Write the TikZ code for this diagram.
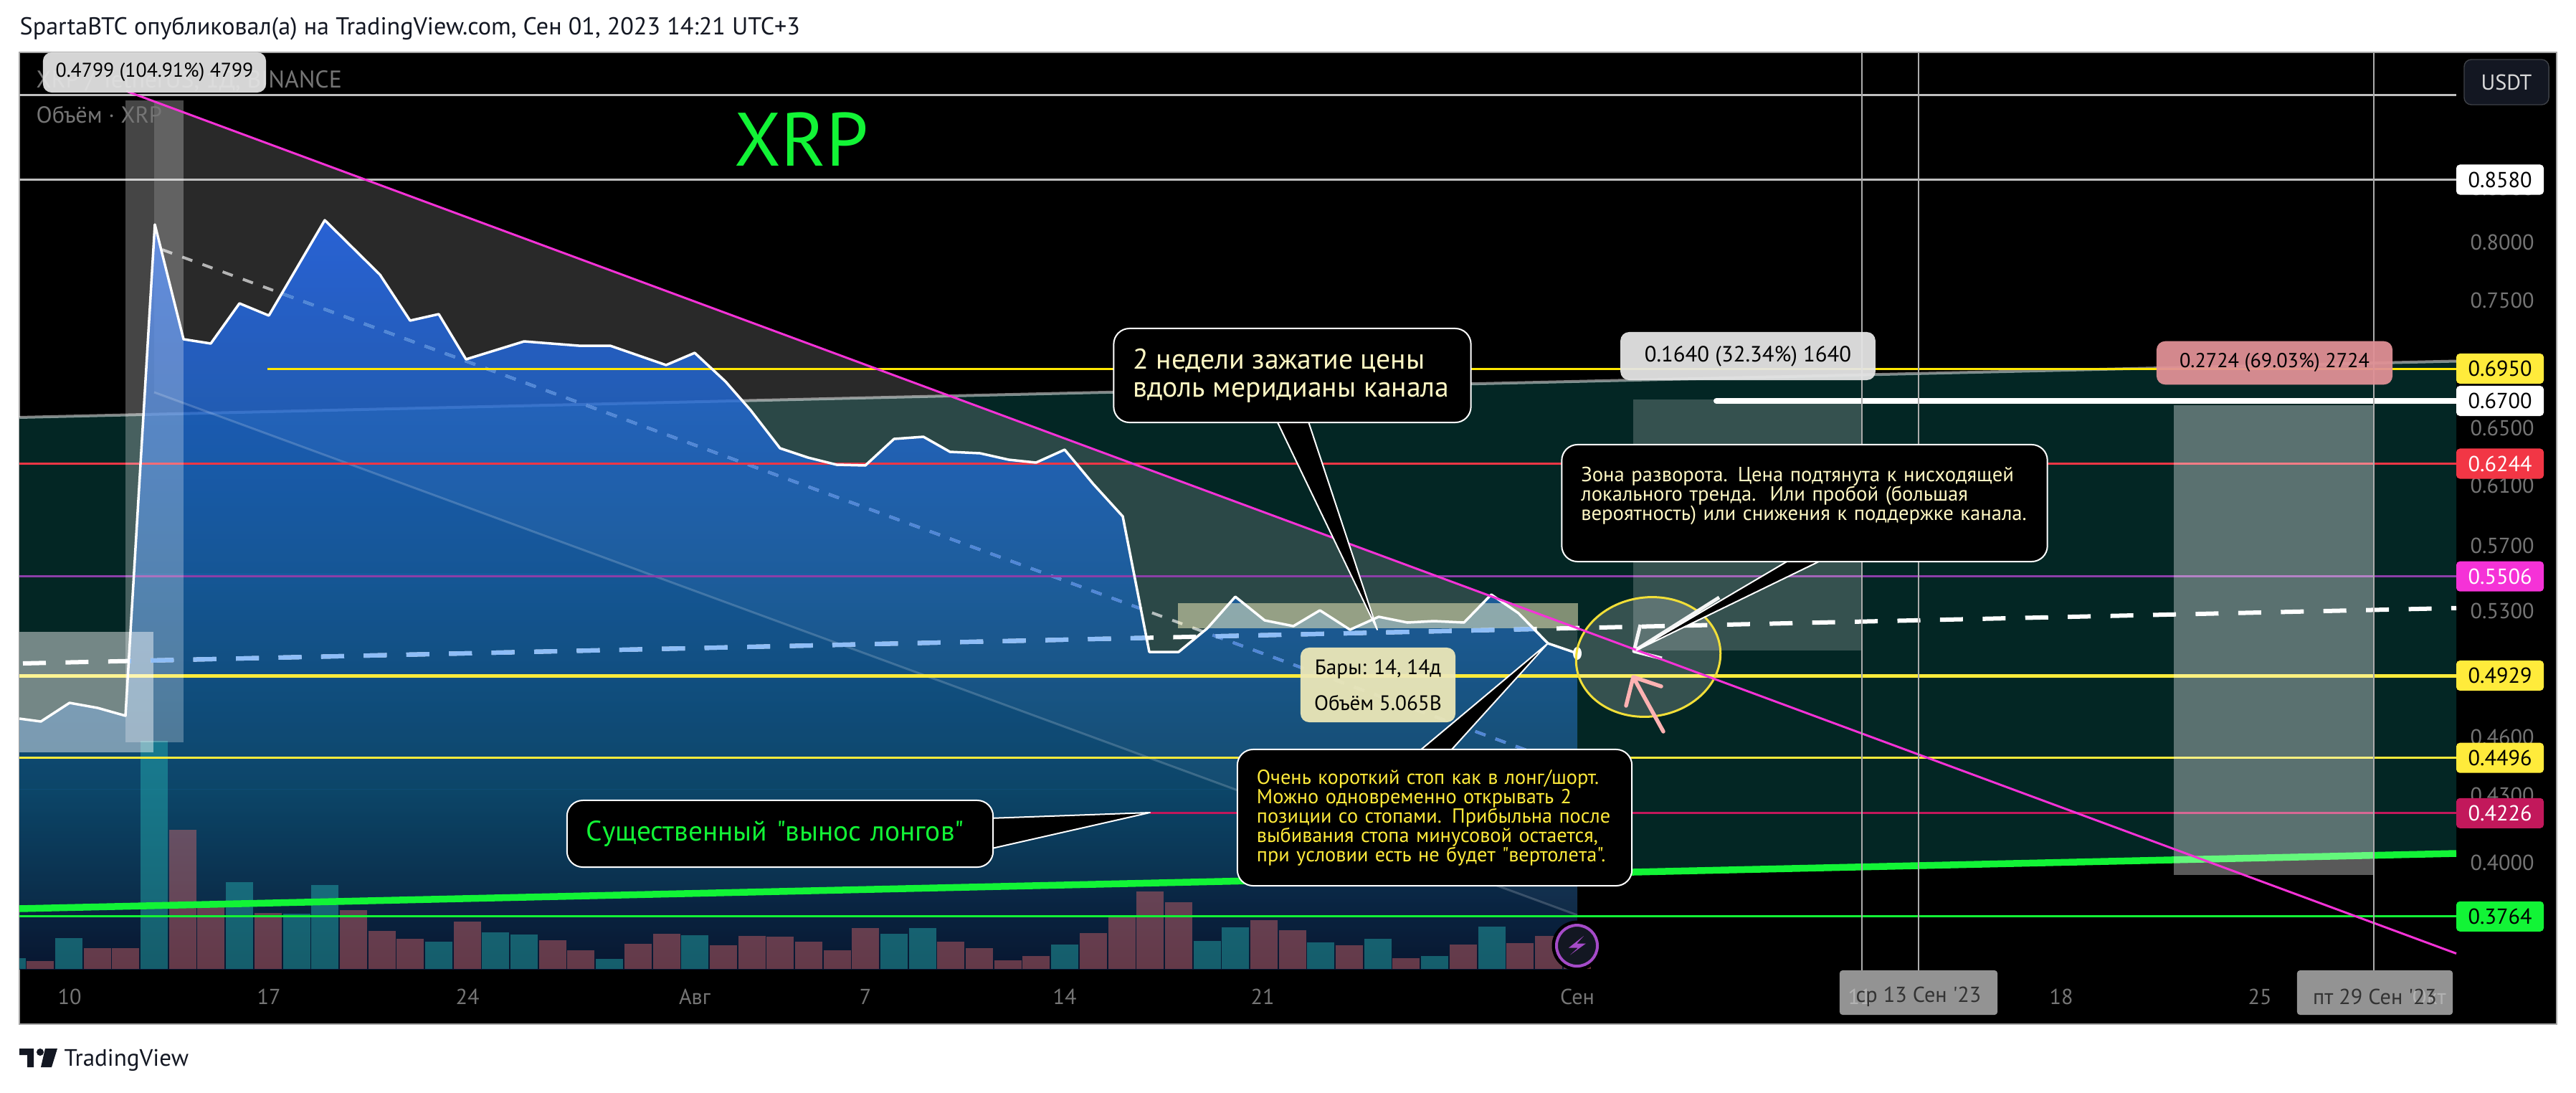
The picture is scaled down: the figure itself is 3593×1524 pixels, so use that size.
\documentclass[tikz,border=0pt]{standalone}
\usepackage{fontspec}
\setmainfont{PT Sans}[Ligatures=TeXOff]
\usetikzlibrary{shapes.geometric}
\definecolor{channelTeal}{RGB}{3,38,36}
\definecolor{areaTop}{RGB}{41,112,255}
\definecolor{areaMid}{RGB}{26,99,178}
\definecolor{areaLow}{RGB}{15,78,122}
\definecolor{areaBot}{RGB}{11,28,60}
\definecolor{tvGreen}{RGB}{18,244,54}
\definecolor{tvYellow}{RGB}{255,235,59}
\definecolor{tvRed}{RGB}{242,54,69}
\definecolor{tvPurple}{RGB}{140,63,168}
\definecolor{tvMagenta}{RGB}{245,50,215}
\definecolor{tvCrimson}{RGB}{194,24,91}
\definecolor{tvInk}{RGB}{19,23,34}
\definecolor{tvGrey}{RGB}{117,117,117}
\definecolor{tvBolt}{RGB}{165,75,200}
\definecolor{volUpCol}{RGB}{38,180,180}
\definecolor{volDownCol}{RGB}{240,110,110}
\definecolor{dashBlue}{RGB}{142,189,247}
\definecolor{midBlue}{RGB}{80,135,215}
\definecolor{noteCream}{RGB}{255,248,196}
\definecolor{rangePink}{RGB}{225,145,150}
\definecolor{infoCream}{RGB}{237,232,184}
\tikzset{
  axisTick/.style={text=tvGrey,inner sep=0pt,font=\fontsize{8.6}{9}\selectfont},
  priceTag/.style={rounded corners=.05cm,minimum width=1.22cm,minimum height=.42cm,inner sep=0pt,font=\fontsize{8.6}{9}\selectfont},
  dateTag/.style={fill=gray!85,rounded corners=.04cm,inner sep=0pt,minimum height=.62cm,text=black!80,font=\fontsize{8.6}{9}\selectfont},
  rangeTag/.style={rounded corners=.12cm,fill opacity=.94,text opacity=1,inner sep=0pt,text=black},
  noteBox/.style={draw=white,fill=black,line width=.02cm,rounded corners=.22cm,align=left,inner xsep=.27cm,inner ysep=0pt},
  noteTail/.style={draw=white,fill=black,line width=.02cm,line join=round},
  volUp/.style={fill=volUpCol,fill opacity=.45},
  volDown/.style={fill=volDownCol,fill opacity=.4},
  levelLine/.style={line width=.03cm}
}
\def\pricePath{(27,1002) -- (57,1006) -- (97,980) -- (136,987) -- (175,998) -- (216,313) -- (256,473) -- (294,479) -- (334,423) -- (375,440) -- (453,307) -- (530,383) -- (572,447) -- (612,438) -- (650,501) -- (731,476) -- (807,482) -- (851,482) -- (929,509) -- (969,492) -- (1012,532) -- (1047,572) -- (1088,625) -- (1127,638) -- (1167,648) -- (1207,649) -- (1247,612) -- (1288,609) -- (1325,630) -- (1367,632) -- (1407,641) -- (1445,645) -- (1485,627) -- (1525,675) -- (1566,720) -- (1603,909) -- (1644,909) -- (1684,876) -- (1723,832) -- (1764,865) -- (1804,873) -- (1841,851) -- (1883,878) -- (1923,860) -- (1963,868) -- (2000,866) -- (2042,868) -- (2080,829) -- (2118,855) -- (2159,897) -- (2200,911)}
\begin{document}
\begin{tikzpicture}[x=0.01cm,y=-0.01cm]
\useasboundingbox (0,0) rectangle (3593,1524);
\fill[white] (0,0) rectangle (3593,1524);
\node[anchor=west,text=tvInk,inner sep=0pt,font=\fontsize{9.7}{10}\selectfont] (header) at (27,40) {SpartaBTC опубликовал(а) на TradingView.com, Сен 01, 2023 14:21 UTC+3};
\draw[fill=black,draw=gray!70,line width=.02cm] (27,73) rectangle (3566,1428);
\fill[channelTeal] (27,582) -- (3426,503.5) -- (3426,1190) -- (27,1267) -- cycle;
\fill[white,fill opacity=.16] (215,141) -- (2200,876) -- (2200,1276) -- (215,547) -- cycle;
\draw[white,opacity=.5,line width=.04cm] (27,582) -- (3426,503.5);
\begin{scope}
\clip \pricePath -- (2200,1352) -- (27,1352) -- cycle;
\shade[top color=areaTop,bottom color=areaMid,opacity=.8] (27,307) rectangle (2200,800);
\shade[top color=areaMid,bottom color=areaLow,opacity=.8] (27,800) rectangle (2200,1100);
\shade[top color=areaLow,bottom color=areaBot,opacity=.8] (27,1100) rectangle (2200,1352);
\end{scope}
\begin{scope}
\clip (27,73) rectangle (3426,1352);
\foreach \idx/\vtop/\vkind in {-2/1336/volUp,-1/1340/volDown,0/1308/volUp,1/1322/volDown,2/1322/volDown,3/1033/volUp,4/1157/volDown,5/1262/volDown,6/1230/volUp,7/1273/volDown,8/1274/volUp,9/1234/volUp,10/1269/volDown,11/1298/volDown,12/1309/volDown,13/1313/volUp,14/1285/volDown,15/1300/volUp,16/1303/volUp,17/1311/volDown,18/1325/volDown,19/1337/volUp,20/1316/volDown,21/1302/volDown,22/1304/volUp,23/1318/volDown,24/1305/volDown,25/1306/volDown,26/1313/volDown,27/1325/volDown,28/1294/volDown,29/1302/volUp,30/1294/volUp,31/1313/volDown,32/1322/volDown,33/1339/volDown,34/1333/volDown,35/1317/volUp,36/1301/volDown,37/1276/volDown,38/1243/volDown,39/1258/volDown,40/1312/volUp,41/1293/volUp,42/1283/volDown,43/1297/volDown,44/1314/volUp,45/1318/volDown,46/1309/volUp,47/1336/volDown,48/1333/volUp,49/1317/volDown,50/1292/volUp,51/1315/volDown,52/1305/volDown,53/1344/volDown}
  \fill[\vkind] ({96+39.69*\idx-19},\vtop) rectangle ({96+39.69*\idx+19},1351);
\end{scope}
\draw[white,opacity=.18,line width=.03cm] (215,547) -- (2200,1276);
\draw[white,opacity=.65,line width=.04cm,dash pattern=on .15cm off .15cm] (226,348) -- (2200,1072);
\begin{scope}
\clip \pricePath -- (2200,1352) -- (27,1352) -- cycle;
\draw[midBlue,line width=.04cm,dash pattern=on .15cm off .15cm] (226,348) -- (2200,1072);
\end{scope}
\draw[yellow!90!orange,levelLine] (373,514) -- (3426,514);
\draw[tvRed,levelLine] (27,646.5) -- (3426,646.5);
\draw[tvPurple,levelLine] (27,803.7) -- (3426,803.7);
\draw[tvYellow,line width=.05cm] (27,942) -- (3426,942);
\draw[tvYellow,levelLine] (27,1056.7) -- (3426,1056.7);
\draw[tvCrimson,levelLine] (1604,1133.8) -- (3426,1133.8);
\draw[tvGreen,line width=.095cm] (27,1267) -- (3426,1190);
\draw[tvGreen,levelLine] (27,1277.8) -- (3426,1277.8);
\draw[white!50!gray,levelLine] (27,132) -- (3426,132);
\draw[white!50!gray,line width=.025cm] (27,250.5) -- (3426,250.5);
\draw[white,line width=.08cm,line cap=round] (2394,559) -- (3426,559);
\fill[white,fill opacity=.27] (175,140) rectangle (256,1035);
\fill[white,fill opacity=.45] (27,881) rectangle (214,1049);
\fill[white,fill opacity=.2] (2278,557) rectangle (2598,906.6);
\fill[white,fill opacity=.35] (3032,565) rectangle (3311,1220);
\fill[noteCream,fill opacity=.5] (1643,841) rectangle (2201,876);
\draw[white,line width=.06cm,dash pattern=on .32cm off .274cm] (32,925) -- (3426,847.8);
\begin{scope}
\clip \pricePath -- (2200,1352) -- (27,1352) -- cycle;
\draw[dashBlue,line width=.06cm,dash pattern=on .32cm off .274cm] (32,925) -- (3426,847.8);
\end{scope}
\draw[white,line width=.035cm,line join=round] \pricePath;
\fill[white] (2200,911) ellipse (.06cm and .09cm);
\node[ellipse,draw=tvYellow!95!black,fill=white,fill opacity=.2,draw opacity=1,line width=.03cm,minimum width=2.02cm,minimum height=1.66cm,inner sep=0pt,rotate=8] (turnZone) at (2299,916) {};
\draw[white!92!gray,line width=.05cm,line join=round] (2398,833) -- (2279,908) (2288,871) -- (2279,908) -- (2318,918);
\draw[red!30!white,line width=.055cm,line cap=round,line join=round] (2320,1020) -- (2278,944) (2268,984) -- (2278,944) -- (2317,957);
\draw[tvMagenta,line width=.03cm] (176,127) -- (3426,1329.5);
\draw[gray!65,line width=.02cm] (2597,73) -- (2597,1353);
\draw[gray!65,line width=.02cm] (2676,73) -- (2676,1353);
\draw[gray!65,line width=.02cm] (3311,73) -- (3311,1353);
\node[text=tvGrey,inner sep=0pt,anchor=west,font=\fontsize{9.6}{10}\selectfont] (pairName) at (50,113) {XRP / TetherUS, 1Д, BINANCE};
\node[text=tvGrey,inner sep=0pt,anchor=west,font=\fontsize{9.2}{10}\selectfont] (volName) at (50,160) {Объём · XRP};
\node[rangeTag,fill=black!11,minimum width=3.11cm,minimum height=.56cm,font=\fontsize{7.9}{9}\selectfont] (rangeLeft) at (215.5,101) {0.4799 (104.91\%) 4799};
\node[rangeTag,fill=black!10,minimum width=3.555cm,minimum height=.67cm,font=\fontsize{8.74}{9}\selectfont] (rangeMid) at (2438,496.5) {0.1640 (32.34\%) 1640};
\node[rangeTag,fill=rangePink,minimum width=3.29cm,minimum height=.605cm,font=\fontsize{8.03}{9}\selectfont] (rangeRight) at (3172.5,506) {0.2724 (69.03\%) 2724};
\node[text=tvGreen,inner sep=0pt,font=\fontsize{30}{32}\selectfont] (coinName) at (1118,194) {XRP};
\node[rangeTag,fill=infoCream,minimum width=2.16cm,minimum height=1.04cm,align=center,font=\fontsize{8.3}{9}\selectfont] (barInfo) at (1922,955) {Бары: 14, 14д\\[.18cm]Объём 5.065B};
\draw[noteTail] (1781.5,588) -- (1921,878) -- (1825,588);
\node[noteBox,minimum width=4.98cm,minimum height=1.31cm,text width=4.44cm,text=noteCream,font=\fontsize{11.3}{11}\selectfont,text badly ragged] (noteWeeks) at (1802.5,523.5) {\mbox{2 недели зажатие цены}\\\mbox{вдоль меридианы канала}};
\draw[noteTail] (2494,782) -- (2282.5,906.6) -- (2539,782);
\node[noteBox,minimum width=6.77cm,minimum height=1.63cm,text width=6.23cm,text=noteCream,font=\fontsize{8.15}{7.7}\selectfont] (noteZone) at (2517,701.5) {Зона разворота. Цена подтянута к нисходящей\\локального тренда.~~Или пробой (большая\\вероятность) или снижения к поддержке канала.\\~};
\draw[noteTail] (1981,1046) -- (2159,897) -- (2024,1046);
\node[noteBox,minimum width=5.5cm,minimum height=1.9cm,text width=4.96cm,text=tvYellow,font=\fontsize{8.05}{7.7}\selectfont] (noteStop) at (2001,1140) {Очень короткий стоп как в лонг/шорт.\\Можно одновременно открывать 2\\позиции со стопами. Прибыльна после\\выбивания стопа минусовой остается,\\при условии есть не будет "вертолета".};
\draw[noteTail] (1379,1141) -- (1604,1133) -- (1379,1184);
\node[noteBox,minimum width=5.84cm,minimum height=.93cm,text width=5.4cm,text=tvGreen,font=\fontsize{11.2}{11}\selectfont] (noteLongs) at (1088,1162.5) {Существенный "вынос лонгов"};
\fill[black] (2199.5,1318.6) circle (.35cm);
\draw[fill=tvInk,draw=tvBolt,line width=.04cm] (2199.5,1318.6) circle (.285cm);
\fill[tvBolt] (2209,1305) -- (2188,1321.5) -- (2201,1321.5) -- (2190,1331.5) -- (2212,1315.5) -- (2199.5,1315.5) -- cycle;
\foreach \xpos/\lab in {97/10,375/17,652/24,969/Авг,1207/7,1485/14,1761/21,2200/Сен,2875/18,3152/25}
  \node[axisTick] (tick\xpos) at (\xpos,1390) {\lab};
\foreach \ypos/\lab in {262/0.8500,338/0.8000,419/0.7500,597/0.6500,677/0.6100,761/0.5700,852/0.5300,1028/0.4600,1109/0.4300,1203/0.4000}
  \node[axisTick] (axis\ypos) at (3490,\ypos) {\lab};
\foreach \ypos/\lab/\tagcol/\txtcol in {250.5/0.8580/white/black,514/0.6950/tvYellow/black,559/0.6700/white/black,646.5/0.6244/tvRed/white,803.7/0.5506/tvMagenta/white,942/0.4929/tvYellow/black,1056.7/0.4496/tvYellow/black,1133.8/0.4226/tvCrimson/white,1277.8/0.3764/tvGreen/black}
  \node[priceTag,fill=\tagcol,text=\txtcol] (tag\ypos) at (3487,\ypos) {\lab};
\node[rounded corners=.1cm,draw=gray!40!tvInk,fill=tvInk,minimum width=1.18cm,minimum height=.63cm,inner sep=0pt,text=gray!30!white,font=\fontsize{8.6}{9}\selectfont] (unitTag) at (3496,114.5) {USDT};
\node[dateTag,minimum width=2.2cm] (dateOne) at (2676,1384) {};
\node[dateTag,minimum width=2.17cm] (dateTwo) at (3312.5,1384) {};
\node[axisTick,text=gray!60!white] (tickEleven) at (2594,1390) {11};
\node[axisTick,text=gray!60!white] (tickOct) at (3388,1390) {Окт};
\node[axisTick,text=black!80] (dateOneText) at (2676,1390) {ср 13 Сен '23};
\node[axisTick,text=black!80] (dateTwoText) at (3312.5,1390) {пт 29 Сен '23};
\fill[tvInk] (27,1462) -- (47,1462) -- (47,1488) -- (38,1488) -- (38,1471) -- (27,1471) -- cycle;
\fill[tvInk] (56,1467) circle (.05cm);
\fill[tvInk] (63,1462) -- (80,1462) -- (72,1488) -- (57,1488) -- cycle;
\node[anchor=west,text=tvInk,inner sep=0pt,font=\fontsize{9.4}{10}\selectfont] (brandName) at (89,1478) {TradingView};
\end{tikzpicture}
\end{document}
